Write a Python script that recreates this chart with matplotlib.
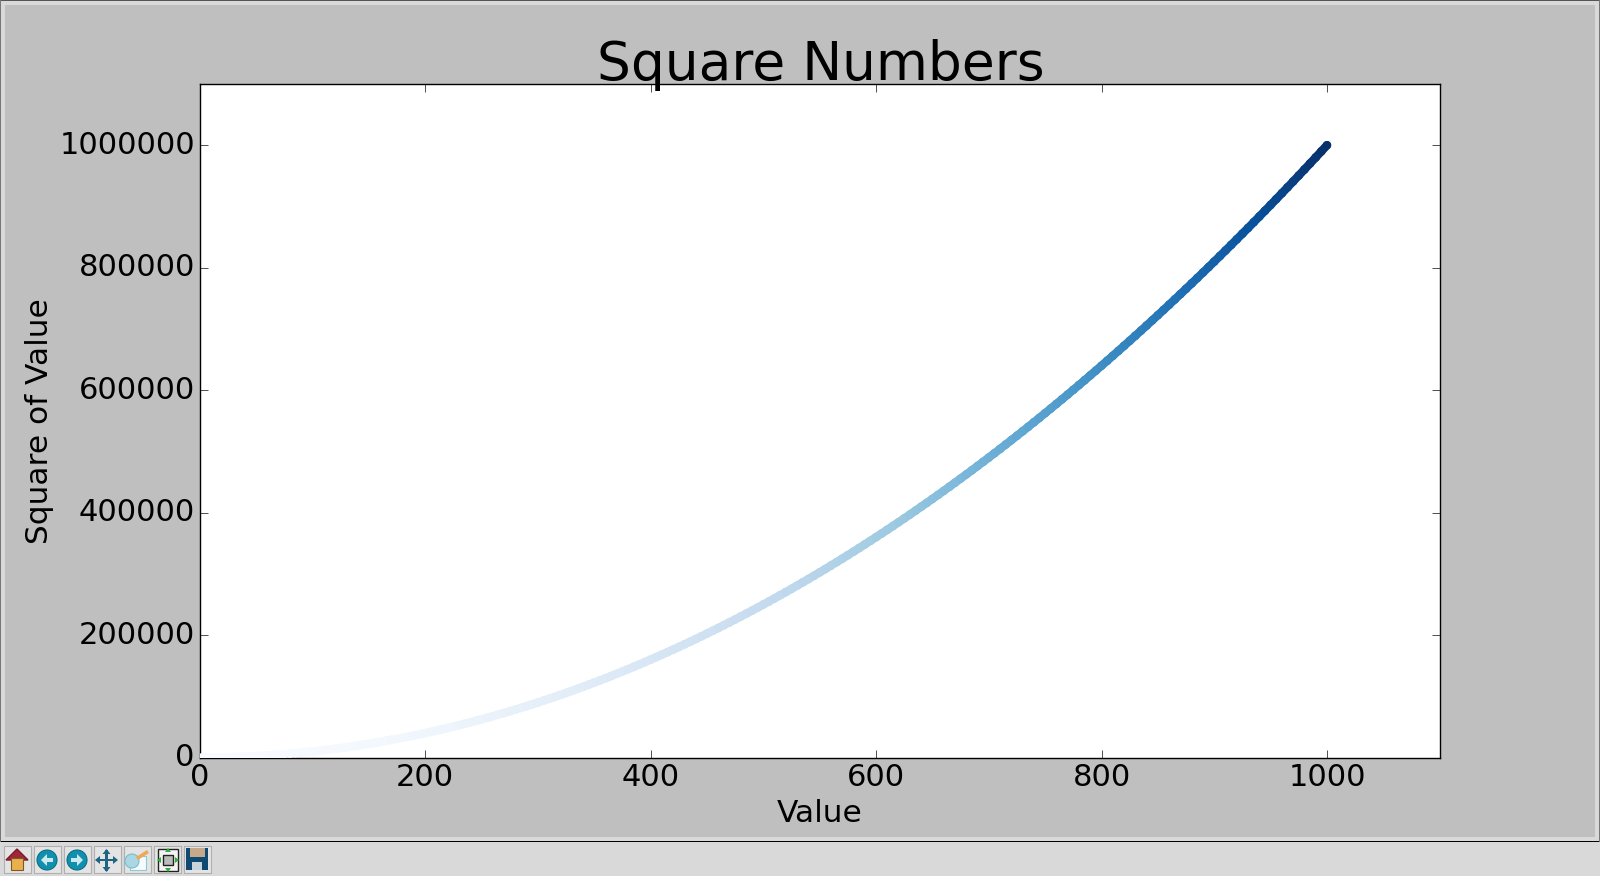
import matplotlib
matplotlib.use("Agg")
import matplotlib.pyplot as plt
from matplotlib.collections import LineCollection
from matplotlib.colors import Normalize
from matplotlib.patches import Rectangle, Circle, Polygon
from matplotlib.transforms import ScaledTranslation

x_values = [1, 5, 10, 15, 20, 25, 30, 35, 40, 45, 50, 55, 60, 65, 70, 75, 80, 85, 90, 95, 100,
    105, 110, 115, 120, 125, 130, 135, 140, 145, 150, 155, 160, 165, 170, 175, 180, 185, 190, 195, 200,
    205, 210, 215, 220, 225, 230, 235, 240, 245, 250, 255, 260, 265, 270, 275, 280, 285, 290, 295, 300,
    305, 310, 315, 320, 325, 330, 335, 340, 345, 350, 355, 360, 365, 370, 375, 380, 385, 390, 395, 400,
    405, 410, 415, 420, 425, 430, 435, 440, 445, 450, 455, 460, 465, 470, 475, 480, 485, 490, 495, 500,
    505, 510, 515, 520, 525, 530, 535, 540, 545, 550, 555, 560, 565, 570, 575, 580, 585, 590, 595, 600,
    605, 610, 615, 620, 625, 630, 635, 640, 645, 650, 655, 660, 665, 670, 675, 680, 685, 690, 695, 700,
    705, 710, 715, 720, 725, 730, 735, 740, 745, 750, 755, 760, 765, 770, 775, 780, 785, 790, 795, 800,
    805, 810, 815, 820, 825, 830, 835, 840, 845, 850, 855, 860, 865, 870, 875, 880, 885, 890, 895, 900,
    905, 910, 915, 920, 925, 930, 935, 940, 945, 950, 955, 960, 965, 970, 975, 980, 985, 990, 995, 1000]
y_values = [1, 25, 100, 225, 400, 625, 900, 1225, 1600, 2025, 2500,
    3025, 3600, 4225, 4900, 5625, 6400, 7225, 8100, 9025, 10000,
    11025, 12100, 13225, 14400, 15625, 16900, 18225, 19600, 21025, 22500,
    24025, 25600, 27225, 28900, 30625, 32400, 34225, 36100, 38025, 40000,
    42025, 44100, 46225, 48400, 50625, 52900, 55225, 57600, 60025, 62500,
    65025, 67600, 70225, 72900, 75625, 78400, 81225, 84100, 87025, 90000,
    93025, 96100, 99225, 102400, 105625, 108900, 112225, 115600, 119025, 122500,
    126025, 129600, 133225, 136900, 140625, 144400, 148225, 152100, 156025, 160000,
    164025, 168100, 172225, 176400, 180625, 184900, 189225, 193600, 198025, 202500,
    207025, 211600, 216225, 220900, 225625, 230400, 235225, 240100, 245025, 250000,
    255025, 260100, 265225, 270400, 275625, 280900, 286225, 291600, 297025, 302500,
    308025, 313600, 319225, 324900, 330625, 336400, 342225, 348100, 354025, 360000,
    366025, 372100, 378225, 384400, 390625, 396900, 403225, 409600, 416025, 422500,
    429025, 435600, 442225, 448900, 455625, 462400, 469225, 476100, 483025, 490000,
    497025, 504100, 511225, 518400, 525625, 532900, 540225, 547600, 555025, 562500,
    570025, 577600, 585225, 592900, 600625, 608400, 616225, 624100, 632025, 640000,
    648025, 656100, 664225, 672400, 680625, 688900, 697225, 705600, 714025, 722500,
    731025, 739600, 748225, 756900, 765625, 774400, 783225, 792100, 801025, 810000,
    819025, 828100, 837225, 846400, 855625, 864900, 874225, 883600, 893025, 902500,
    912025, 921600, 931225, 940900, 950625, 960400, 970225, 980100, 990025, 1000000]
x_ticks = [0, 200, 400, 600, 800, 1000]
y_ticks = [0, 200000, 400000, 600000, 800000, 1000000]

W, H = 1600, 876
fig = plt.figure(figsize=(W / 100, H / 100), dpi=100, facecolor="#d9d9d9")

# window chrome, in pixel coordinates
chrome = fig.add_axes([0, 0, 1, 1], zorder=0)
chrome.set_xlim(0, W); chrome.set_ylim(H, 0); chrome.axis("off")
chrome.add_patch(Rectangle((5, 5), 1590, 832, fc="#bfbfbf", ec="none"))
chrome.add_patch(Rectangle((0, 841), W, 1.2, fc="black", ec="none"))
chrome.add_patch(Rectangle((0, 0), W, 1.2, fc="#555555", ec="none"))
chrome.add_patch(Rectangle((0, 0), 1.2, 842, fc="#777777", ec="none"))
chrome.add_patch(Rectangle((1598.5, 0), 1.5, 842, fc="#777777", ec="none"))

# toolbar buttons
for bx in [3, 33, 63, 93, 123, 153, 183]:
    chrome.add_patch(Rectangle((bx + 0.5, 845.5), 27, 27, fc="#e4e4e4", ec="#b0b0b0", lw=0.8))
chrome.add_patch(Polygon([(6, 860), (17, 849), (28, 860)], fc="#a02838", ec="#7a1c2a", lw=1))
chrome.add_patch(Rectangle((11, 858), 12, 12, fc="#e9b04c", ec="#7d5a2a", lw=0.8))
chrome.add_patch(Circle((47, 860), 10, fc="#1190ad", ec="#0f6d85", lw=0.8))
chrome.add_patch(Polygon([(41, 860), (47, 854), (47, 866)], fc="#cdeaf0", ec="none"))
chrome.add_patch(Rectangle((47, 858), 6, 4, fc="#cdeaf0", ec="none"))
chrome.add_patch(Circle((77, 860), 10, fc="#1190ad", ec="#0f6d85", lw=0.8))
chrome.add_patch(Polygon([(83, 860), (77, 854), (77, 866)], fc="#cdeaf0", ec="none"))
chrome.add_patch(Rectangle((71, 858), 6, 4, fc="#cdeaf0", ec="none"))
chrome.add_patch(Rectangle((96, 858.8), 21, 2.4, fc="#1f6385", ec="none"))
chrome.add_patch(Rectangle((105.3, 850), 2.4, 21, fc="#1f6385", ec="none"))
for tri in [[(95, 860), (100, 856), (100, 864)], [(118, 860), (113, 856), (113, 864)],
            [(106.5, 849), (102.5, 854), (110.5, 854)], [(106.5, 872), (102.5, 867), (110.5, 867)]]:
    chrome.add_patch(Polygon(tri, fc="#1f6385", ec="none"))
chrome.add_patch(Rectangle((130, 856), 16, 14, fc="#f4fbfd", ec="#8cc8d8", lw=0.8))
chrome.add_patch(Circle((132, 861), 7, fc="#a9d8e4", ec="#7bbccc", lw=0.8))
chrome.add_patch(Polygon([(136, 857), (147, 850), (149, 853), (138, 860)], fc="#eda95a", ec="none"))
chrome.add_patch(Rectangle((158, 849), 20, 22, fc="#f4f4f4", ec="#222222", lw=1))
chrome.add_patch(Rectangle((163, 855), 10, 10, fc="#bcbcbc", ec="#222222", lw=1))
for tri in [[(168, 848), (165, 852), (171, 852)], [(168, 872), (165, 868), (171, 868)],
            [(157, 860), (161, 857), (161, 863)], [(179, 860), (175, 857), (175, 863)]]:
    chrome.add_patch(Polygon(tri, fc="#2cae3c", ec="none"))
chrome.add_patch(Rectangle((186, 848), 22, 22, fc="#0e4a72", ec="none"))
chrome.add_patch(Rectangle((190, 848), 15, 9, fc="#c5a98a", ec="none"))
chrome.add_patch(Rectangle((192, 862), 10, 8, fc="#c8d4dc", ec="none"))

# plot
L, R, T, B = 199.7, 1439.7, 84.0, 757.6
ax = fig.add_axes([L / W, 1 - B / H, (R - L) / W, (B - T) / H], zorder=1, facecolor="white")
norm = Normalize(min(y_values), max(y_values))
points = list(zip(x_values, y_values))
segments = [[a, b] for a, b in zip(points[:-1], points[1:])]
ax.add_collection(LineCollection(segments, array=y_values[1:], cmap="Blues", norm=norm,
                                 linewidths=6.0, capstyle="round", zorder=2))
ax.scatter(x_values, y_values, c=y_values, cmap="Blues", norm=norm, s=38, edgecolors="none", zorder=3)
ax.set_xlim(0, 1100)
ax.set_ylim(0, 1100000)
ax.set_xticks(x_ticks)
ax.set_yticks(y_ticks)
ax.ticklabel_format(style="plain", useOffset=False)
ax.tick_params(axis="both", which="major", direction="in", top=True, right=True,
               length=5.5, width=0.6, color="#333333", labelsize=22)
ax.tick_params(axis="y", pad=3.5)
ax.tick_params(axis="x", pad=4.2)
up = ScaledTranslation(0, 2.2 / 72, fig.dpi_scale_trans)
for lab in ax.get_yticklabels():
    lab.set_transform(lab.get_transform() + up)
for s in ax.spines.values():
    s.set_linewidth(1.0)
ax.set_title("Square Numbers", fontsize=38.4, pad=3.2, x=0.5012)
ax.title.set_zorder(5)
ax.set_xlabel("Value", fontsize=22.5, labelpad=4.5)
ax.set_ylabel("Square of Value", fontsize=22.5, labelpad=4)

fig.savefig("out.png", dpi=100, facecolor=fig.get_facecolor())
